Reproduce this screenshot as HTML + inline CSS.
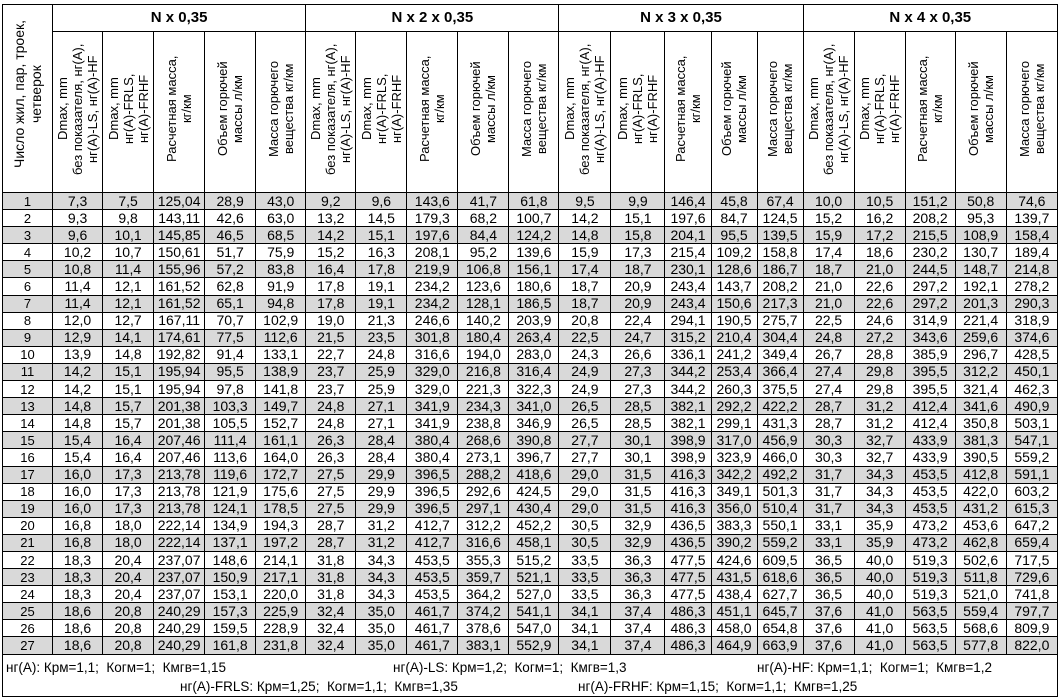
<!DOCTYPE html>
<html><head><meta charset="utf-8"><style>
body{margin:0;background:#fff;width:1060px;height:698px;overflow:hidden;font-family:"Liberation Sans",Arial,sans-serif;color:#000}
table{position:absolute;left:2px;top:4px;border-collapse:collapse;table-layout:fixed;width:1056px}
td{border:1px solid #000;padding:0;text-align:center;font-size:14px;line-height:15px;overflow:hidden;white-space:nowrap}
tr.d td{height:16.1px}
tr.g td{background:#d9d9d9}
td.n{font-size:13px}
.gh td.h{height:25px;font-weight:bold;font-size:15px}
.vh td{height:151px;vertical-align:bottom;padding-bottom:6px}
.v{writing-mode:vertical-rl;transform:rotate(180deg);font-size:13px;line-height:15px;text-align:center;display:inline-block;height:148px;white-space:nowrap}
.v0{height:178px;font-size:14px;line-height:17px}
.foot{position:absolute;font-size:13.5px;white-space:nowrap}
.fb{position:absolute;left:2px;top:655px;width:1054px;height:41px;border:1px solid #000;border-top:none}
</style></head><body>
<table>
<colgroup><col style="width:50px"><col style="width:50px"><col style="width:51px"><col style="width:51px"><col style="width:51px"><col style="width:50px"><col style="width:50px"><col style="width:51px"><col style="width:51px"><col style="width:51px"><col style="width:50px"><col style="width:52px"><col style="width:54px"><col style="width:46px"><col style="width:46px"><col style="width:46px"><col style="width:51px"><col style="width:51px"><col style="width:50px"><col style="width:51px"><col style="width:51px"></colgroup>
<tr class="gh"><td rowspan="2" style="vertical-align:bottom;padding-bottom:6px"><div class="v v0">Число жил, пар, троек,<br>четверок</div></td><td class="h" colspan="5">N x 0,35</td><td class="h" colspan="5">N x 2 x 0,35</td><td class="h" colspan="5">N x 3 x 0,35</td><td class="h" colspan="5">N x 4 x 0,35</td></tr>
<tr class="vh">
<td><div class="v">Dmax, mm<br>без показателя, нг(А),<br>нг(А)-LS, нг(А)-HF</div></td><td><div class="v">Dmax, mm<br>нг(А)-FRLS,<br>нг(А)-FRHF</div></td><td><div class="v">Расчетная масса,<br>кг/км</div></td><td><div class="v">Объем горючей<br>массы л/км</div></td><td><div class="v">Масса горючего<br>вещества кг/км</div></td>
<td><div class="v">Dmax, mm<br>без показателя, нг(А),<br>нг(А)-LS, нг(А)-HF</div></td><td><div class="v">Dmax, mm<br>нг(А)-FRLS,<br>нг(А)-FRHF</div></td><td><div class="v">Расчетная масса,<br>кг/км</div></td><td><div class="v">Объем горючей<br>массы л/км</div></td><td><div class="v">Масса горючего<br>вещества кг/км</div></td>
<td><div class="v">Dmax, mm<br>без показателя, нг(А),<br>нг(А)-LS, нг(А)-HF</div></td><td><div class="v">Dmax, mm<br>нг(А)-FRLS,<br>нг(А)-FRHF</div></td><td><div class="v">Расчетная масса,<br>кг/км</div></td><td><div class="v">Объем горючей<br>массы л/км</div></td><td><div class="v">Масса горючего<br>вещества кг/км</div></td>
<td><div class="v">Dmax, mm<br>без показателя, нг(А),<br>нг(А)-LS, нг(А)-HF</div></td><td><div class="v">Dmax, mm<br>нг(А)-FRLS,<br>нг(А)-FRHF</div></td><td><div class="v">Расчетная масса,<br>кг/км</div></td><td><div class="v">Объем горючей<br>массы л/км</div></td><td><div class="v">Масса горючего<br>вещества кг/км</div></td>
</tr>
<tr class="d g"><td class="n">1</td><td>7,3</td><td>7,5</td><td>125,04</td><td>28,9</td><td>43,0</td><td>9,2</td><td>9,6</td><td>143,6</td><td>41,7</td><td>61,8</td><td>9,5</td><td>9,9</td><td>146,4</td><td>45,8</td><td>67,4</td><td>10,0</td><td>10,5</td><td>151,2</td><td>50,8</td><td>74,6</td></tr>
<tr class="d"><td class="n">2</td><td>9,3</td><td>9,8</td><td>143,11</td><td>42,6</td><td>63,0</td><td>13,2</td><td>14,5</td><td>179,3</td><td>68,2</td><td>100,7</td><td>14,2</td><td>15,1</td><td>197,6</td><td>84,7</td><td>124,5</td><td>15,2</td><td>16,2</td><td>208,2</td><td>95,3</td><td>139,7</td></tr>
<tr class="d g"><td class="n">3</td><td>9,6</td><td>10,1</td><td>145,85</td><td>46,5</td><td>68,5</td><td>14,2</td><td>15,1</td><td>197,6</td><td>84,4</td><td>124,2</td><td>14,8</td><td>15,8</td><td>204,1</td><td>95,5</td><td>139,5</td><td>15,9</td><td>17,2</td><td>215,5</td><td>108,9</td><td>158,4</td></tr>
<tr class="d"><td class="n">4</td><td>10,2</td><td>10,7</td><td>150,61</td><td>51,7</td><td>75,9</td><td>15,2</td><td>16,3</td><td>208,1</td><td>95,2</td><td>139,6</td><td>15,9</td><td>17,3</td><td>215,4</td><td>109,2</td><td>158,8</td><td>17,4</td><td>18,6</td><td>230,2</td><td>130,7</td><td>189,4</td></tr>
<tr class="d g"><td class="n">5</td><td>10,8</td><td>11,4</td><td>155,96</td><td>57,2</td><td>83,8</td><td>16,4</td><td>17,8</td><td>219,9</td><td>106,8</td><td>156,1</td><td>17,4</td><td>18,7</td><td>230,1</td><td>128,6</td><td>186,7</td><td>18,7</td><td>21,0</td><td>244,5</td><td>148,7</td><td>214,8</td></tr>
<tr class="d"><td class="n">6</td><td>11,4</td><td>12,1</td><td>161,52</td><td>62,8</td><td>91,9</td><td>17,8</td><td>19,1</td><td>234,2</td><td>123,6</td><td>180,6</td><td>18,7</td><td>20,9</td><td>243,4</td><td>143,7</td><td>208,2</td><td>21,0</td><td>22,6</td><td>297,2</td><td>192,1</td><td>278,2</td></tr>
<tr class="d g"><td class="n">7</td><td>11,4</td><td>12,1</td><td>161,52</td><td>65,1</td><td>94,8</td><td>17,8</td><td>19,1</td><td>234,2</td><td>128,1</td><td>186,5</td><td>18,7</td><td>20,9</td><td>243,4</td><td>150,6</td><td>217,3</td><td>21,0</td><td>22,6</td><td>297,2</td><td>201,3</td><td>290,3</td></tr>
<tr class="d"><td class="n">8</td><td>12,0</td><td>12,7</td><td>167,11</td><td>70,7</td><td>102,9</td><td>19,0</td><td>21,3</td><td>246,6</td><td>140,2</td><td>203,9</td><td>20,8</td><td>22,4</td><td>294,1</td><td>190,5</td><td>275,7</td><td>22,5</td><td>24,6</td><td>314,9</td><td>221,4</td><td>318,9</td></tr>
<tr class="d g"><td class="n">9</td><td>12,9</td><td>14,1</td><td>174,61</td><td>77,5</td><td>112,6</td><td>21,5</td><td>23,5</td><td>301,8</td><td>180,4</td><td>263,4</td><td>22,5</td><td>24,7</td><td>315,2</td><td>210,4</td><td>304,4</td><td>24,8</td><td>27,2</td><td>343,6</td><td>259,6</td><td>374,6</td></tr>
<tr class="d"><td class="n">10</td><td>13,9</td><td>14,8</td><td>192,82</td><td>91,4</td><td>133,1</td><td>22,7</td><td>24,8</td><td>316,6</td><td>194,0</td><td>283,0</td><td>24,3</td><td>26,6</td><td>336,1</td><td>241,2</td><td>349,4</td><td>26,7</td><td>28,8</td><td>385,9</td><td>296,7</td><td>428,5</td></tr>
<tr class="d g"><td class="n">11</td><td>14,2</td><td>15,1</td><td>195,94</td><td>95,5</td><td>138,9</td><td>23,7</td><td>25,9</td><td>329,0</td><td>216,8</td><td>316,4</td><td>24,9</td><td>27,3</td><td>344,2</td><td>253,4</td><td>366,4</td><td>27,4</td><td>29,8</td><td>395,5</td><td>312,2</td><td>450,1</td></tr>
<tr class="d"><td class="n">12</td><td>14,2</td><td>15,1</td><td>195,94</td><td>97,8</td><td>141,8</td><td>23,7</td><td>25,9</td><td>329,0</td><td>221,3</td><td>322,3</td><td>24,9</td><td>27,3</td><td>344,2</td><td>260,3</td><td>375,5</td><td>27,4</td><td>29,8</td><td>395,5</td><td>321,4</td><td>462,3</td></tr>
<tr class="d g"><td class="n">13</td><td>14,8</td><td>15,7</td><td>201,38</td><td>103,3</td><td>149,7</td><td>24,8</td><td>27,1</td><td>341,9</td><td>234,3</td><td>341,0</td><td>26,5</td><td>28,5</td><td>382,1</td><td>292,2</td><td>422,2</td><td>28,7</td><td>31,2</td><td>412,4</td><td>341,6</td><td>490,9</td></tr>
<tr class="d"><td class="n">14</td><td>14,8</td><td>15,7</td><td>201,38</td><td>105,5</td><td>152,7</td><td>24,8</td><td>27,1</td><td>341,9</td><td>238,8</td><td>346,9</td><td>26,5</td><td>28,5</td><td>382,1</td><td>299,1</td><td>431,3</td><td>28,7</td><td>31,2</td><td>412,4</td><td>350,8</td><td>503,1</td></tr>
<tr class="d g"><td class="n">15</td><td>15,4</td><td>16,4</td><td>207,46</td><td>111,4</td><td>161,1</td><td>26,3</td><td>28,4</td><td>380,4</td><td>268,6</td><td>390,8</td><td>27,7</td><td>30,1</td><td>398,9</td><td>317,0</td><td>456,9</td><td>30,3</td><td>32,7</td><td>433,9</td><td>381,3</td><td>547,1</td></tr>
<tr class="d"><td class="n">16</td><td>15,4</td><td>16,4</td><td>207,46</td><td>113,6</td><td>164,0</td><td>26,3</td><td>28,4</td><td>380,4</td><td>273,1</td><td>396,7</td><td>27,7</td><td>30,1</td><td>398,9</td><td>323,9</td><td>466,0</td><td>30,3</td><td>32,7</td><td>433,9</td><td>390,5</td><td>559,2</td></tr>
<tr class="d g"><td class="n">17</td><td>16,0</td><td>17,3</td><td>213,78</td><td>119,6</td><td>172,7</td><td>27,5</td><td>29,9</td><td>396,5</td><td>288,2</td><td>418,6</td><td>29,0</td><td>31,5</td><td>416,3</td><td>342,2</td><td>492,2</td><td>31,7</td><td>34,3</td><td>453,5</td><td>412,8</td><td>591,1</td></tr>
<tr class="d"><td class="n">18</td><td>16,0</td><td>17,3</td><td>213,78</td><td>121,9</td><td>175,6</td><td>27,5</td><td>29,9</td><td>396,5</td><td>292,6</td><td>424,5</td><td>29,0</td><td>31,5</td><td>416,3</td><td>349,1</td><td>501,3</td><td>31,7</td><td>34,3</td><td>453,5</td><td>422,0</td><td>603,2</td></tr>
<tr class="d g"><td class="n">19</td><td>16,0</td><td>17,3</td><td>213,78</td><td>124,1</td><td>178,5</td><td>27,5</td><td>29,9</td><td>396,5</td><td>297,1</td><td>430,4</td><td>29,0</td><td>31,5</td><td>416,3</td><td>356,0</td><td>510,4</td><td>31,7</td><td>34,3</td><td>453,5</td><td>431,2</td><td>615,3</td></tr>
<tr class="d"><td class="n">20</td><td>16,8</td><td>18,0</td><td>222,14</td><td>134,9</td><td>194,3</td><td>28,7</td><td>31,2</td><td>412,7</td><td>312,2</td><td>452,2</td><td>30,5</td><td>32,9</td><td>436,5</td><td>383,3</td><td>550,1</td><td>33,1</td><td>35,9</td><td>473,2</td><td>453,6</td><td>647,2</td></tr>
<tr class="d g"><td class="n">21</td><td>16,8</td><td>18,0</td><td>222,14</td><td>137,1</td><td>197,2</td><td>28,7</td><td>31,2</td><td>412,7</td><td>316,6</td><td>458,1</td><td>30,5</td><td>32,9</td><td>436,5</td><td>390,2</td><td>559,2</td><td>33,1</td><td>35,9</td><td>473,2</td><td>462,8</td><td>659,4</td></tr>
<tr class="d"><td class="n">22</td><td>18,3</td><td>20,4</td><td>237,07</td><td>148,6</td><td>214,1</td><td>31,8</td><td>34,3</td><td>453,5</td><td>355,3</td><td>515,2</td><td>33,5</td><td>36,3</td><td>477,5</td><td>424,6</td><td>609,5</td><td>36,5</td><td>40,0</td><td>519,3</td><td>502,6</td><td>717,5</td></tr>
<tr class="d g"><td class="n">23</td><td>18,3</td><td>20,4</td><td>237,07</td><td>150,9</td><td>217,1</td><td>31,8</td><td>34,3</td><td>453,5</td><td>359,7</td><td>521,1</td><td>33,5</td><td>36,3</td><td>477,5</td><td>431,5</td><td>618,6</td><td>36,5</td><td>40,0</td><td>519,3</td><td>511,8</td><td>729,6</td></tr>
<tr class="d"><td class="n">24</td><td>18,3</td><td>20,4</td><td>237,07</td><td>153,1</td><td>220,0</td><td>31,8</td><td>34,3</td><td>453,5</td><td>364,2</td><td>527,0</td><td>33,5</td><td>36,3</td><td>477,5</td><td>438,4</td><td>627,7</td><td>36,5</td><td>40,0</td><td>519,3</td><td>521,0</td><td>741,8</td></tr>
<tr class="d g"><td class="n">25</td><td>18,6</td><td>20,8</td><td>240,29</td><td>157,3</td><td>225,9</td><td>32,4</td><td>35,0</td><td>461,7</td><td>374,2</td><td>541,1</td><td>34,1</td><td>37,4</td><td>486,3</td><td>451,1</td><td>645,7</td><td>37,6</td><td>41,0</td><td>563,5</td><td>559,4</td><td>797,7</td></tr>
<tr class="d"><td class="n">26</td><td>18,6</td><td>20,8</td><td>240,29</td><td>159,5</td><td>228,9</td><td>32,4</td><td>35,0</td><td>461,7</td><td>378,6</td><td>547,0</td><td>34,1</td><td>37,4</td><td>486,3</td><td>458,0</td><td>654,8</td><td>37,6</td><td>41,0</td><td>563,5</td><td>568,6</td><td>809,9</td></tr>
<tr class="d g"><td class="n">27</td><td>18,6</td><td>20,8</td><td>240,29</td><td>161,8</td><td>231,8</td><td>32,4</td><td>35,0</td><td>461,7</td><td>383,1</td><td>552,9</td><td>34,1</td><td>37,4</td><td>486,3</td><td>464,9</td><td>663,9</td><td>37,6</td><td>41,0</td><td>563,5</td><td>577,8</td><td>822,0</td></tr>
</table>
<div class="fb"></div>
<div class="foot" style="left:6px;top:660px">нг(А): Крм=1,1;&nbsp; Когм=1;&nbsp; Кмгв=1,15</div>
<div class="foot" style="left:393px;top:660px">нг(А)-LS: Крм=1,2;&nbsp; Когм=1;&nbsp; Кмгв=1,3</div>
<div class="foot" style="left:757px;top:660px">нг(А)-HF: Крм=1,1;&nbsp; Когм=1;&nbsp; Кмгв=1,2</div>
<div class="foot" style="left:180px;top:679px">нг(А)-FRLS: Крм=1,25;&nbsp; Когм=1,1;&nbsp; Кмгв=1,35</div>
<div class="foot" style="left:578px;top:679px">нг(А)-FRHF: Крм=1,15;&nbsp; Когм=1,1;&nbsp; Кмгв=1,25</div>
</body></html>
